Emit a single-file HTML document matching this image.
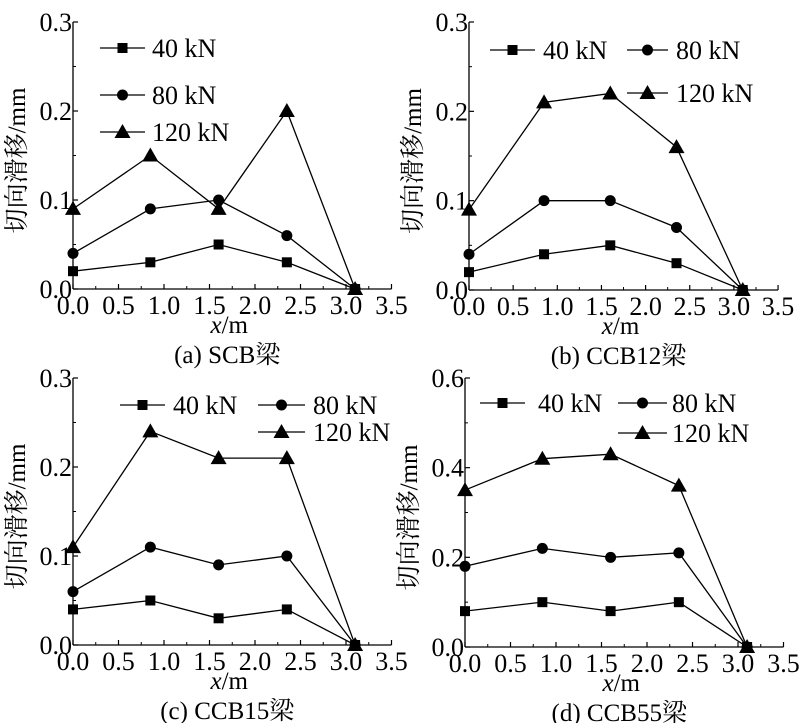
<!DOCTYPE html>
<html><head><meta charset="utf-8"><style>
html,body{margin:0;padding:0;background:#fff;}
text{font-family:"Liberation Serif","Noto Serif CJK SC",serif !important;fill:#000;}
</style></head><body>
<svg id="fig" width="800" height="723" xmlns="http://www.w3.org/2000/svg" font-family="Liberation Serif, Noto Serif CJK SC, serif"></svg>
<script>
const xPositions = [0, 0.85, 1.6, 2.35, 3.1];
const seriesNames = ["40 kN", "80 kN", "120 kN"];
const xTickLabels = ["0.0","0.5","1.0","1.5","2.0","2.5","3.0","3.5"];
const yTicksA = ["0.0","0.1","0.2","0.3"];
const yTicksD = ["0.0","0.2","0.4","0.6"];
const aS40 = [0.02,0.03,0.05,0.03,0];
const aS80 = [0.04,0.09,0.10,0.06,0];
const aS120 = [0.09,0.15,0.09,0.20,0];
const bS40 = [0.02,0.04,0.05,0.03,0];
const bS80 = [0.04,0.10,0.10,0.07,0];
const bS120 = [0.09,0.21,0.22,0.16,0];
const cS40 = [0.04,0.05,0.03,0.04,0];
const cS80 = [0.06,0.11,0.09,0.10,0];
const cS120 = [0.11,0.24,0.21,0.21,0];
const dS40 = [0.08,0.10,0.08,0.10,0];
const dS80 = [0.18,0.22,0.20,0.21,0];
const dS120 = [0.35,0.42,0.43,0.36,0];
const captions = ["(a) SCB梁","(b) CCB12梁","(c) CCB15梁","(d) CCB55梁"];

const NS="http://www.w3.org/2000/svg";
const FF='"Liberation Serif","Noto Serif CJK SC",serif';
const svg=document.getElementById('fig');
function mk(tag,attrs,parent){const e=document.createElementNS(NS,tag);for(const k in attrs)e.setAttribute(k,attrs[k]);if(tag==='text')e.style.fontFamily=FF;(parent||svg).appendChild(e);return e;}

function marker(g,kind,x,y){
  let m;
  if(kind===0){m=mk('rect',{x:x-5,y:y-5,width:10,height:10,fill:'#000'},g);}
  else if(kind===1){m=mk('circle',{cx:x,cy:y,r:5.5,fill:'#000'},g);}
  else {m=mk('polygon',{points:`${x},${y-8} ${x-8},${y+6} ${x+8},${y+6}`,fill:'#000'},g);}
  
  
}

const panels=[
 {id:'a',x0:73,y0:289,yt:22,sx:91,ymax:0.3,yl:yTicksA,data:[aS40,aS80,aS120],
  leg:[[100,145,152,48],[100,145,152,95],[100,145,152,132]]},
 {id:'b',x0:469,y0:290,yt:22,sx:88.3,ymax:0.3,yl:yTicksA,data:[bS40,bS80,bS120],
  leg:[[490,535,543,50],[627,668,676,50],[627,668,676,93]]},
 {id:'c',x0:73,y0:645,yt:378,sx:91,ymax:0.3,yl:yTicksA,data:[cS40,cS80,cS120],
  leg:[[120,165,173,405],[258,305,313,405],[258,305,313,432]]},
 {id:'d',x0:465,y0:647,yt:378,sx:91,ymax:0.6,yl:yTicksD,data:[dS40,dS80,dS120],
  leg:[[480,525,538,403],[618,667,672,403],[618,667,672,433]]}
];

panels.forEach((p,pi)=>{
  const g=mk('g',{});
  
  
  const X=v=>p.x0+v*p.sx;
  const Y=v=>p.y0-(v/p.ymax)*(p.y0-p.yt);
  const xEnd=X(3.5);
  const ya=mk('line',{x1:p.x0,y1:p.yt,x2:p.x0,y2:p.y0,stroke:'#000','stroke-width':1.3},g);
  
  const xa=mk('line',{x1:p.x0,y1:p.y0,x2:xEnd,y2:p.y0,stroke:'#000','stroke-width':1.3},g);
  
  p.yl.forEach((lab,i)=>{
    const v=p.ymax*i/(p.yl.length-1);
    mk('line',{x1:p.x0,y1:Y(v),x2:p.x0+5,y2:Y(v),stroke:'#000','stroke-width':1.2},g);
    if(i<p.yl.length-1){const vm=v+p.ymax/(p.yl.length-1)/2;mk('line',{x1:p.x0,y1:Y(vm),x2:p.x0+3,y2:Y(vm),stroke:'#000','stroke-width':1},g);}
    const t=mk('text',{x:p.x0-1,y:Y(v)+9,'font-size':26,'text-anchor':'end'},g);t.textContent=lab;
    
  });
  xTickLabels.forEach((lab,i)=>{
    const v=0.5*i;
    mk('line',{x1:X(v),y1:p.y0,x2:X(v),y2:p.y0-5,stroke:'#000','stroke-width':1.2},g);
    if(i<xTickLabels.length-1)mk('line',{x1:X(v+0.25),y1:p.y0,x2:X(v+0.25),y2:p.y0-3,stroke:'#000','stroke-width':1},g);
    const t=mk('text',{x:X(v),y:p.y0+25,'font-size':26,'text-anchor':'middle'},g);t.textContent=lab;
    
  });
  const yc=(p.yt+p.y0)/2;
  const yt=mk('text',{x:0,y:0,'font-size':25,'text-anchor':'middle',transform:`translate(${p.x0-48},${yc+5}) rotate(-90)`},g);
  yt.textContent='切向滑移/mm';
  
  const xt=mk('text',{x:(p.x0+xEnd)/2-3,y:p.y0+44,'font-size':25,'text-anchor':'middle'},g);
  xt.innerHTML='<tspan font-style="italic">x</tspan>/m';
  
  const cap=mk('text',{x:(p.x0+xEnd)/2-5,y:p.y0+74,'font-size':25,'text-anchor':'middle'},g);
  cap.textContent=captions[pi];
  
  p.data.forEach((vals,si)=>{
    const sg=mk('g',{},g);
    
    
    const pts=vals.map((v,i)=>X(xPositions[i])+','+Y(v)).join(' ');
    const pl=mk('polyline',{points:pts,fill:'none',stroke:'#000','stroke-width':1.3},sg);
    
    vals.forEach((v,i)=>marker(sg,si,X(xPositions[i]),Y(v)));
    const L=p.leg[si];
    const lg=mk('g',{},g);
    
    mk('line',{x1:L[0],y1:L[3],x2:L[1],y2:L[3],stroke:'#000','stroke-width':1.3},lg);
    marker(lg,si,(L[0]+L[1])/2,L[3]);
    const lt=mk('text',{x:L[2],y:L[3]+9,'font-size':26},lg);lt.textContent=seriesNames[si];
  });
});
</script>
</body></html>
